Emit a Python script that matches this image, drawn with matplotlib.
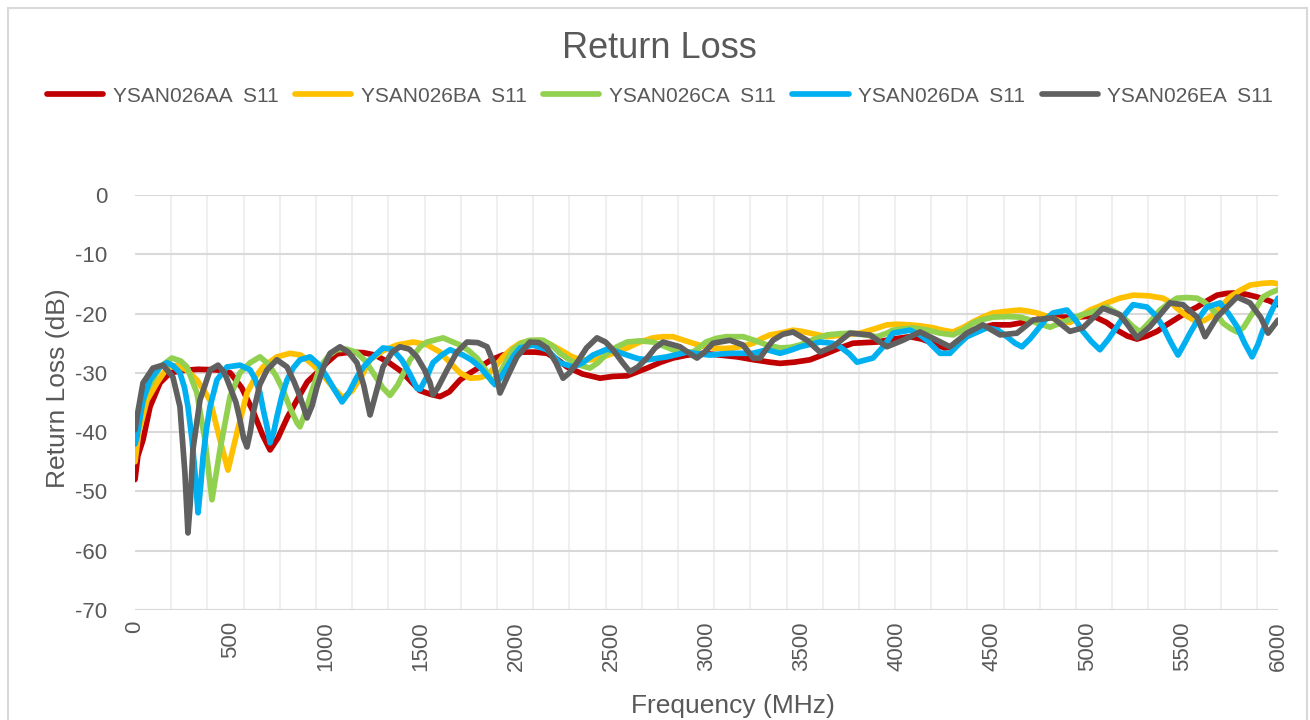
import numpy as np
import matplotlib
matplotlib.use('Agg')
from matplotlib import pyplot as plt
from matplotlib.patches import Rectangle

plt.rcParams['font.family'] = ['Liberation Sans', 'DejaVu Sans']
plt.rcParams['axes.unicode_minus'] = False

# Return loss traces (MHz, dB)
aa_freq = [0, 15, 42, 79, 131, 184, 250, 330, 430, 500, 560, 620, 670, 709, 750, 800, 850, 905, 955, 1010,
           1060, 1130, 1200, 1260, 1330, 1400, 1450, 1496, 1550, 1601, 1650, 1706, 1760, 1811, 1870, 1930,
           2021, 2100, 2163, 2220, 2268, 2350, 2441, 2510, 2583, 2640, 2688, 2760, 2824, 2900, 2982, 3070,
           3160, 3250, 3333, 3386, 3460, 3543, 3632, 3700, 3769, 3830, 3895, 3980, 4068, 4130, 4189, 4250,
           4294, 4350, 4399, 4504, 4593, 4682, 4787, 4860, 4945, 5029, 5100, 5155, 5210, 5260, 5310, 5365,
           5420, 5470, 5520, 5575, 5630, 5680, 5730, 5785, 5840, 5890, 5950, 6000]
aa_db = [-48, -44, -41.3, -35.7, -31.7, -30, -29.6, -29.4, -29.5, -30, -32.5, -36.5, -40.5, -43, -41, -37.5,
         -34.6, -31.5, -30, -28.2, -26.8, -26.5, -26.6, -27, -28.2, -29.8, -31.5, -33, -33.6, -34, -33.2,
         -31.2, -30, -29, -27.8, -27, -26.5, -26.5, -26.7, -27.8, -29, -30.2, -30.9, -30.6, -30.5, -29.8,
         -29.2, -28.2, -27.5, -27, -26.7, -27, -27.3, -27.8, -28.2, -28.4, -28.2, -27.8, -26.7, -25.8, -25,
         -24.9, -24.8, -24.3, -23.9, -24.3, -25, -25.8, -25.6, -24, -22.8, -21.9, -21.9, -21.4, -20.6,
         -20.6, -20.6, -20.4, -21.5, -22.8, -23.8, -24.3, -23.8, -23, -21.8, -20.8, -19.8, -18.9, -17.8,
         -16.9, -16.6, -16.5, -16.8, -17.2, -17.8, -18.5]

ba_freq = [0, 20, 63, 115, 168, 220, 270, 325, 394, 446, 488, 535, 588, 630, 672, 745, 814, 870, 930, 990,
           1040, 1092, 1140, 1190, 1234, 1300, 1375, 1460, 1530, 1601, 1660, 1706, 1759, 1810, 1848, 1890,
           1932, 1975, 2021, 2070, 2126, 2180, 2231, 2290, 2336, 2390, 2441, 2510, 2583, 2650, 2719, 2770,
           2824, 2880, 2929, 2980, 3034, 3090, 3139, 3190, 3244, 3290, 3333, 3400, 3454, 3500, 3543, 3632,
           3720, 3806, 3880, 3947, 4000, 4068, 4130, 4189, 4240, 4294, 4350, 4399, 4450, 4504, 4580, 4646,
           4690, 4735, 4800, 4860, 4908, 4960, 5013, 5060, 5102, 5170, 5239, 5320, 5396, 5440, 5470, 5520,
           5575, 5610, 5643, 5700, 5748, 5800, 5853, 5920, 5970, 6000]
ba_db = [-45, -40, -34.6, -31.7, -29.2, -28.7, -29.5, -31.2, -34.6, -41.3, -46.4, -40.1, -33.4, -30.8, -29,
         -27.3, -26.7, -27, -28.5, -30.5, -32.5, -34.2, -33, -30.5, -27.8, -26.3, -25.3, -24.8, -25.2, -26.5,
         -28.5, -30, -30.9, -30.8, -30.4, -29, -27.3, -26, -25, -24.6, -24.5, -25.2, -26.1, -27.2, -27.8,
         -27.8, -27.5, -26.7, -25.8, -24.8, -24.1, -23.9, -23.9, -24.5, -25, -25.5, -25.8, -25.9, -25.8,
         -25.5, -25, -24.2, -23.6, -23.2, -22.8, -23, -23.3, -23.9, -23.6, -23.3, -22.6, -21.9, -21.8, -21.9,
         -22.1, -22.4, -22.8, -23.1, -22.3, -21.4, -20.6, -19.9, -19.6, -19.4, -19.6, -19.9, -20.6, -21.3,
         -21.5, -20.5, -19.4, -18.8, -18.2, -17.4, -16.9, -17, -17.4, -18.2, -19.1, -20.4, -21.4, -21.2,
         -20.6, -18.8, -17.2, -16.1, -15.2, -14.9, -14.8, -15]

ca_freq = [0, 20, 63, 131, 194, 240, 273, 325, 367, 404, 446, 499, 551, 604, 656, 700, 740, 777, 815, 850,
           866, 890, 919, 971, 1020, 1060, 1110, 1160, 1210, 1260, 1300, 1339, 1380, 1444, 1500, 1533, 1617,
           1706, 1750, 1795, 1840, 1874, 1916, 1950, 1984, 2030, 2073, 2142, 2190, 2231, 2290, 2336, 2388,
           2430, 2478, 2530, 2583, 2650, 2719, 2770, 2824, 2880, 2929, 2960, 2997, 3050, 3102, 3192, 3250,
           3318, 3386, 3440, 3491, 3560, 3632, 3700, 3769, 3830, 3895, 3940, 3979, 4084, 4160, 4226, 4294,
           4350, 4399, 4450, 4504, 4580, 4646, 4690, 4735, 4803, 4850, 4908, 4960, 5029, 5102, 5155, 5200,
           5239, 5276, 5330, 5381, 5430, 5470, 5520, 5575, 5610, 5643, 5680, 5711, 5750, 5785, 5820, 5853,
           5890, 5921, 5960, 6000]
ca_db = [-41.5, -37, -32.9, -29, -27.5, -28, -29, -33.4, -41.3, -51.4, -43, -34, -30, -28.3, -27.3, -28.5,
         -30.5, -32.9, -36, -38.4, -39.1, -37, -34, -29, -27, -26.1, -26, -26.5, -28, -30.5, -32.5, -33.8,
         -32, -27.8, -25.5, -24.8, -24.1, -25.3, -26.2, -27.5, -29.5, -31.5, -30, -28, -26.1, -25, -24.5,
         -24.5, -25.4, -26.7, -28, -28.7, -29.2, -28.3, -26.7, -25.6, -24.8, -24.6, -24.8, -25.4, -26.1,
         -26.5, -26.5, -25.8, -24.8, -24.2, -23.9, -23.9, -24.5, -25.3, -25.8, -25.7, -25.3, -24.4, -23.6,
         -23.4, -23.3, -23.6, -23.9, -23.4, -22.8, -22.4, -22.8, -23.3, -23.6, -22.7, -21.6, -21, -20.6,
         -20.5, -20.6, -21, -21.6, -22.3, -21.7, -21, -20.3, -19.7, -18.9, -19.9, -21, -22.2, -23.1, -21.3,
         -19.4, -18.2, -17.4, -17.3, -17.4, -18, -18.9, -20.2, -21.6, -22.5, -23.1, -22.3, -20.6, -18.8,
         -17.2, -16.5, -16]

da_freq = [0, 10, 42, 79, 131, 168, 200, 236, 260, 278, 300, 315, 331, 345, 357, 375, 394, 430, 483, 551,
           604, 630, 656, 675, 693, 709, 728, 745, 770, 798, 830, 866, 919, 965, 1008, 1050, 1087, 1125, 1165,
           1200, 1234, 1302, 1350, 1400, 1440, 1480, 1496, 1530, 1564, 1610, 1654, 1722, 1765, 1811, 1850,
           1890, 1920, 1953, 1990, 2021, 2089, 2163, 2231, 2299, 2350, 2404, 2478, 2530, 2583, 2640, 2688,
           2793, 2898, 2960, 3018, 3080, 3139, 3244, 3318, 3386, 3440, 3491, 3596, 3660, 3701, 3750, 3790,
           3874, 3930, 3979, 4068, 4120, 4157, 4226, 4278, 4320, 4367, 4472, 4530, 4577, 4620, 4656, 4700,
           4735, 4780, 4819, 4892, 4940, 4976, 5020, 5065, 5110, 5155, 5200, 5239, 5312, 5360, 5396, 5440,
           5475, 5510, 5538, 5580, 5627, 5696, 5740, 5785, 5825, 5864, 5895, 5921, 5960, 6000]
da_db = [-42, -40.8, -34.6, -31.2, -29, -28.3, -28.8, -30, -32.5, -35.7, -41.5, -46.9, -53.6, -49, -44.2,
         -39.5, -35.7, -31.2, -29, -28.7, -29.5, -31, -33.4, -36.5, -39.1, -41.8, -40, -37.4, -34, -31.2,
         -29.2, -27.8, -27.3, -28.6, -30.7, -33, -34.9, -33.2, -30.7, -29, -27.8, -25.8, -26, -27.8, -30,
         -32.6, -32.8, -30.8, -28.3, -27, -26.1, -27, -27.8, -29, -30.5, -32, -30.8, -29, -27, -25.8, -25.3,
         -26.1, -28.3, -29, -28.3, -27, -26, -26.4, -27, -27.6, -27.8, -27.3, -26.5, -26.8, -27, -26.8,
         -26.7, -26.7, -26.1, -26.7, -26.2, -25.6, -24.8, -25, -25.6, -26.8, -28.2, -27.5, -25.5, -23.3,
         -22.8, -23.6, -24.5, -26.7, -26.7, -25.3, -23.9, -22.4, -22.8, -23.9, -25, -25.6, -24.2, -22.8,
         -21, -19.9, -19.4, -21.2, -23, -24.7, -26.1, -24.3, -22.2, -20, -18.5, -18.9, -20.4, -22.2, -25,
         -27, -25, -23.3, -21, -18.9, -18.2, -20, -22.2, -25, -27.3, -25.2, -22.8, -20, -17.4]

ea_freq = [0, 10, 42, 94, 147, 199, 236, 262, 278, 290, 304, 341, 394, 436, 470, 499, 530, 551, 570, 588,
           605, 620, 655, 693, 745, 798, 835, 866, 903, 930, 955, 990, 1024, 1076, 1120, 1165, 1200, 1234,
           1260, 1302, 1350, 1391, 1440, 1480, 1520, 1549, 1564, 1590, 1638, 1690, 1743, 1800, 1848, 1885,
           1916, 1950, 2005, 2073, 2120, 2163, 2210, 2247, 2280, 2320, 2370, 2425, 2470, 2509, 2560, 2598,
           2640, 2688, 2730, 2772, 2861, 2910, 2950, 2990, 3034, 3123, 3192, 3244, 3281, 3318, 3349, 3400,
           3454, 3528, 3596, 3664, 3753, 3858, 3947, 4031, 4121, 4210, 4278, 4367, 4451, 4541, 4630, 4714,
           4819, 4908, 4976, 5081, 5171, 5220, 5260, 5328, 5433, 5501, 5575, 5617, 5680, 5785, 5853, 5910,
           5948, 6000]
ea_db = [-39.6, -37.5, -31.7, -29.2, -28.7, -30.7, -35.7, -46.9, -57, -52, -43, -34.6, -29.5, -28.7, -30,
         -32.4, -35, -37.9, -41, -42.5, -40, -36.8, -32, -29.5, -27.8, -29, -31.5, -34, -37.6, -35.5, -32.4,
         -29, -26.7, -25.6, -26.5, -28.3, -32, -37.1, -34, -29, -26.5, -25.6, -26, -27.3, -29.5, -31.7,
         -33.7, -32.5, -29.5, -26.5, -24.8, -24.9, -25.6, -28.5, -33.4, -31, -27.3, -24.8, -24.9, -25.8,
         -28.3, -30.9, -30, -28.3, -25.8, -24.1, -24.8, -26.1, -28.3, -29.8, -29, -27.5, -25.8, -24.8,
         -25.6, -26.7, -27.5, -26.5, -25, -24.5, -25.3, -27.5, -27.5, -25.8, -24.5, -23.5, -23.1, -24.5,
         -26.5, -25.6, -23.3, -23.6, -25.6, -24.5, -23.1, -24.5, -25.6, -23.3, -21.9, -23.6, -23.3, -21.1,
         -20.7, -23, -22.4, -19.1, -20.2, -22.3, -24.1, -22.2, -18.2, -18.5, -20.6, -23.9, -20.6, -17.2,
         -18.2, -20.7, -23.3, -21.1]

labels = ['YSAN026AA  S11', 'YSAN026BA  S11', 'YSAN026CA  S11', 'YSAN026DA  S11', 'YSAN026EA  S11']
colors = ['#C00000', '#FFC000', '#92D050', '#00B0F0', '#606060']
series = [(aa_freq, aa_db), (ba_freq, ba_db), (ca_freq, ca_db), (da_freq, da_db), (ea_freq, ea_db)]

W, H = 1310, 720
fig = plt.figure(figsize=(W / 100, H / 100), dpi=100)
ax = fig.add_axes([135 / W, 1 - 610 / H, (1278 - 135) / W, (610 - 195) / H])

txt = '#595959'
for (f, d), lab, c in zip(series, labels, colors):
    ax.plot(f, d, color=c, lw=4.1, label=lab, solid_capstyle='round', solid_joinstyle='round')

ax.set_xlim(0, 6000)
ax.set_ylim(-70, 0)
ax.set_xticks(np.arange(0, 6001, 500))
ax.set_xticks(np.arange(0, 6000, 190), minor=True)
ax.set_yticks(np.arange(-70, 1, 10))
ax.grid(which='major', axis='y', color='#d9d9d9', lw=1.5)
ax.grid(which='minor', axis='x', color='#efefef', lw=1.5)
ax.set_axisbelow(True)
for s in ax.spines.values():
    s.set_visible(False)
ax.axhline(-70, color='#d9d9d9', lw=1.5, zorder=0)
ax.tick_params(which='both', length=0)
ax.tick_params(axis='y', labelsize=16, labelcolor=txt, pad=20)
ax.tick_params(axis='x', labelsize=16, labelcolor=txt, pad=8, labelrotation=90)

fig.text(733 / W, 1 - 706 / H, 'Frequency (MHz)', ha='center', va='center', fontsize=19, color=txt)
fig.text(58 / W, 1 - 388 / H, 'Return Loss (dB)', ha='center', va='center', rotation=90,
         fontsize=19, color=txt)
fig.text(659 / W, 1 - 49 / H, 'Return Loss', ha='center', va='center', fontsize=26, color=txt)

fig.legend(loc='center left', bbox_to_anchor=(47 / W, 1 - 96 / H), ncol=5, frameon=False,
           fontsize=15, labelcolor=txt, handlelength=2.7, handletextpad=0.45, columnspacing=0.8,
           borderpad=0, borderaxespad=0)

fig.patches.append(Rectangle((7.5 / W, -0.05), (1306.5 - 7.5) / W, 1 - 8 / H + 0.05,
                             transform=fig.transFigure, fill=False, edgecolor='#d9d9d9', lw=1.5))

plt.savefig('out.png', dpi=100)
